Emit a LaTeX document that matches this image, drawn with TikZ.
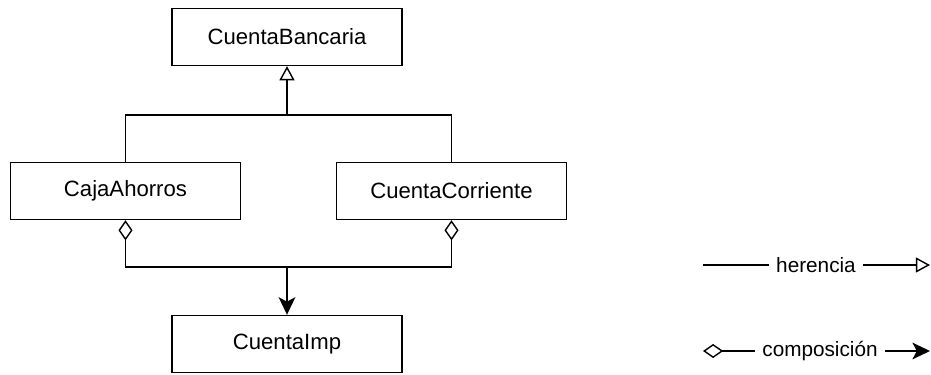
\documentclass[tikz,border=0pt]{standalone}
\usepackage{fontspec}
\setmainfont{Liberation Sans}
\usetikzlibrary{arrows.meta}

\begin{document}
\begin{tikzpicture}[x=0.02cm, y=-0.02cm, line width=0.8pt,
    clase/.style={draw, minimum width=4.6cm, minimum height=1.14cm, font=\fontsize{12.6}{15}\selectfont},
    leyenda/.style={inner xsep=4pt, font=\fontsize{11.8}{14}\selectfont},
    hereda/.style={-{Triangle[open, length=8pt, width=8.5pt]}},
    compone/.style={{Diamond[open, length=11.5pt, width=8pt]}-},
    apunta/.style={-{Stealth[length=10pt, width=9.5pt, inset=2.5pt]}}]
    \useasboundingbox (0,0) rectangle (931,375);

    \node[clase] (bancaria) at (287,37) {CuentaBancaria};
    \node[clase] (caja) at (125.5,191) {CajaAhorros};
    \node[clase] (corriente) at (451.5,191) {CuentaCorriente};
    \node[clase] (imp) at (287,344) {CuentaImp};

    % herencia
    \coordinate (hsplit) at (287,115);
    \draw (caja.north) |- (hsplit);
    \draw (corriente.north) |- (hsplit);
    \draw[hereda] (hsplit) -- (bancaria.south);

    % composicion
    \coordinate (csplit) at (287,267);
    \draw[compone] (caja.south) |- (csplit);
    \draw[compone] (corriente.south) |- (csplit);
    \draw[apunta] (csplit) -- (imp.north);

    % leyenda
    \coordinate (h1) at (703,265);
    \coordinate (h2) at (930,265);
    \node[leyenda] (herencia) at (816,265) {herencia};
    \draw (h1) -- (herencia);
    \draw[hereda] (herencia) -- (h2);

    \coordinate (c1) at (703,351);
    \coordinate (c2) at (930,351);
    \node[leyenda] (composicion) at (820,351) {composición};
    \draw[compone] (c1) -- (composicion);
    \draw[apunta] (composicion) -- (c2);
\end{tikzpicture}
\end{document}
